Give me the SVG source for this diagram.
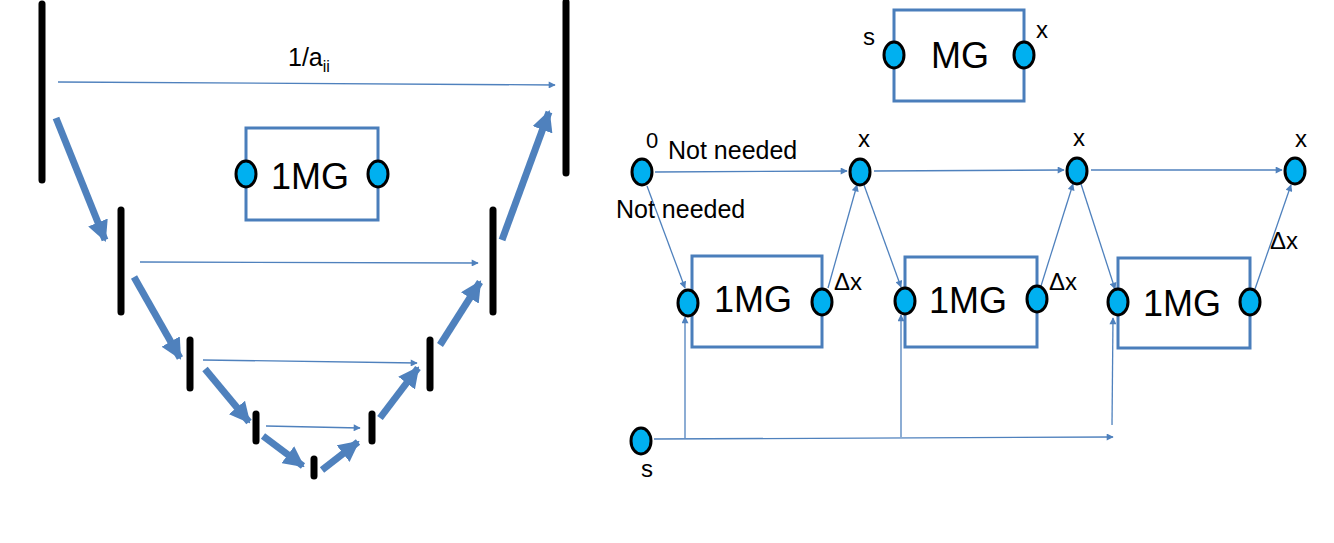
<svg xmlns="http://www.w3.org/2000/svg" width="1334" height="543" viewBox="0 0 1334 543">
<style>
.bar{stroke:#000;stroke-width:7;stroke-linecap:round}
.thin{stroke:#4f81bd;stroke-width:1.3;fill:none}
.thick{stroke:#4f81bd;stroke-width:7;fill:none}
.box{fill:none;stroke:#4a7ebb;stroke-width:3}
.port{fill:#00b0f0;stroke:#000;stroke-width:3}
.t{font-family:"Liberation Sans",Arial,sans-serif;fill:#000}
.big{font-size:36px;text-anchor:middle}
.lbl{font-size:24px}
.nn{font-size:25px}
</style>
<defs>
<marker id="ah" viewBox="0 0 10 10" refX="9" refY="5" markerWidth="9" markerHeight="7" markerUnits="userSpaceOnUse" orient="auto"><path d="M0,0 L10,5 L0,10 z" fill="#4f81bd"/></marker>
<marker id="ahb" viewBox="0 0 10 10" refX="9" refY="5" markerWidth="3" markerHeight="3" orient="auto"><path d="M0,0 L10,5 L0,10 z" fill="#4f81bd"/></marker>
</defs>
<rect width="1334" height="543" fill="#fff"/>

<g id="levels">
<line class="bar" x1="42" y1="4" x2="42" y2="180"/>
<line class="bar" x1="566" y1="2" x2="566" y2="173"/>
<line class="bar" x1="121" y1="210" x2="121" y2="312"/>
<line class="bar" x1="493" y1="210" x2="493" y2="312"/>
<line class="bar" x1="190" y1="340" x2="190" y2="388"/>
<line class="bar" x1="430" y1="340" x2="430" y2="388"/>
<line class="bar" x1="256" y1="414" x2="256" y2="441"/>
<line class="bar" x1="372" y1="414" x2="372" y2="441"/>
<line class="bar" x1="314" y1="459" x2="314" y2="476"/>
</g>

<g id="v-connectors">
<line class="thin" x1="58" y1="82" x2="555" y2="85" marker-end="url(#ah)"/>
<line class="thin" x1="140" y1="262" x2="478" y2="263" marker-end="url(#ah)"/>
<line class="thin" x1="203" y1="360" x2="417" y2="363" marker-end="url(#ah)"/>
<line class="thin" x1="266" y1="426" x2="360" y2="428" marker-end="url(#ah)"/>
<line class="thick" x1="56" y1="118" x2="105" y2="240" marker-end="url(#ahb)"/>
<line class="thick" x1="134" y1="277" x2="180" y2="358" marker-end="url(#ahb)"/>
<line class="thick" x1="205" y1="369" x2="249" y2="422" marker-end="url(#ahb)"/>
<line class="thick" x1="263" y1="436" x2="303" y2="466" marker-end="url(#ahb)"/>
<line class="thick" x1="322" y1="470" x2="358" y2="442" marker-end="url(#ahb)"/>
<line class="thick" x1="380" y1="418" x2="418" y2="368" marker-end="url(#ahb)"/>
<line class="thick" x1="440" y1="345" x2="480" y2="282" marker-end="url(#ahb)"/>
<line class="thick" x1="502" y1="240" x2="549" y2="112" marker-end="url(#ahb)"/>
</g>
<text class="t" x="288" y="66" font-size="25">1/a<tspan font-size="16" dy="6">ii</tspan></text>

<g id="mg-left">
<rect class="box" x="246" y="128" width="132" height="92"/>
<ellipse class="port" cx="246" cy="174" rx="10" ry="13"/>
<ellipse class="port" cx="378" cy="174" rx="10" ry="13"/>
<text class="t big" x="310" y="189">1MG</text>
</g>

<g id="mg-top">
<rect class="box" x="894" y="10" width="130" height="91"/>
<ellipse class="port" cx="894" cy="55" rx="10" ry="13"/>
<ellipse class="port" cx="1024" cy="55" rx="10" ry="13"/>
<text class="t big" x="960" y="68">MG</text>
<text class="t lbl" x="863" y="45">s</text>
<text class="t lbl" x="1036" y="38">x</text>
</g>

<g id="r-connectors">
<line class="thin" x1="655" y1="172" x2="847" y2="171" marker-end="url(#ah)"/>
<line class="thin" x1="874" y1="171" x2="1064" y2="170" marker-end="url(#ah)"/>
<line class="thin" x1="1091" y1="170" x2="1282" y2="170" marker-end="url(#ah)"/>
<line class="thin" x1="647" y1="186" x2="685" y2="288" marker-end="url(#ah)"/>
<line class="thin" x1="828" y1="288" x2="857" y2="185" marker-end="url(#ah)"/>
<line class="thin" x1="864" y1="185" x2="901" y2="287" marker-end="url(#ah)"/>
<line class="thin" x1="1041" y1="286" x2="1073" y2="184" marker-end="url(#ah)"/>
<line class="thin" x1="1081" y1="184" x2="1115" y2="289" marker-end="url(#ah)"/>
<line class="thin" x1="1255" y1="289" x2="1291" y2="185" marker-end="url(#ah)"/>
<line class="thin" x1="654" y1="439" x2="1113" y2="437" marker-end="url(#ah)"/>
<line class="thin" x1="685" y1="438" x2="685" y2="317" marker-end="url(#ah)"/>
<line class="thin" x1="901" y1="437" x2="901" y2="315" marker-end="url(#ah)"/>
<line class="thin" x1="1112" y1="425" x2="1113" y2="318" marker-end="url(#ah)"/>
</g>
<text class="t nn" x="668" y="159">Not needed</text>
<text class="t nn" x="616" y="218">Not needed</text>

<g id="n0"><ellipse class="port" cx="642" cy="172" rx="10" ry="13"/><text class="t" x="646" y="148" font-size="22">0</text></g>
<g id="x1"><ellipse class="port" cx="860" cy="172" rx="10" ry="13"/><text class="t lbl" x="858" y="147">x</text></g>
<g id="x2"><ellipse class="port" cx="1077" cy="171" rx="10" ry="13"/><text class="t lbl" x="1073" y="146">x</text></g>
<g id="x3"><ellipse class="port" cx="1295" cy="171" rx="10" ry="13"/><text class="t lbl" x="1295" y="147">x</text></g>
<g id="s"><ellipse class="port" cx="641" cy="441" rx="10" ry="13"/><text class="t lbl" x="641" y="477">s</text></g>

<g id="box1">
<rect class="box" x="692" y="256" width="130" height="91"/>
<ellipse class="port" cx="688" cy="303" rx="10" ry="13"/>
<ellipse class="port" cx="822" cy="302" rx="10" ry="13"/>
<text class="t big" x="753" y="312">1MG</text>
<text class="t lbl" x="834" y="290">Δx</text>
</g>
<g id="box2">
<rect class="box" x="905" y="257" width="132" height="90"/>
<ellipse class="port" cx="905" cy="301" rx="10" ry="13"/>
<ellipse class="port" cx="1037" cy="299" rx="10" ry="13"/>
<text class="t big" x="968" y="313">1MG</text>
<text class="t lbl" x="1049" y="290">Δx</text>
</g>
<g id="box3">
<rect class="box" x="1118" y="258" width="132" height="90"/>
<ellipse class="port" cx="1118" cy="302" rx="10" ry="13"/>
<ellipse class="port" cx="1250" cy="302" rx="10" ry="13"/>
<text class="t big" x="1182" y="316">1MG</text>
<text class="t lbl" x="1270" y="249">Δx</text>
</g>
</svg>
